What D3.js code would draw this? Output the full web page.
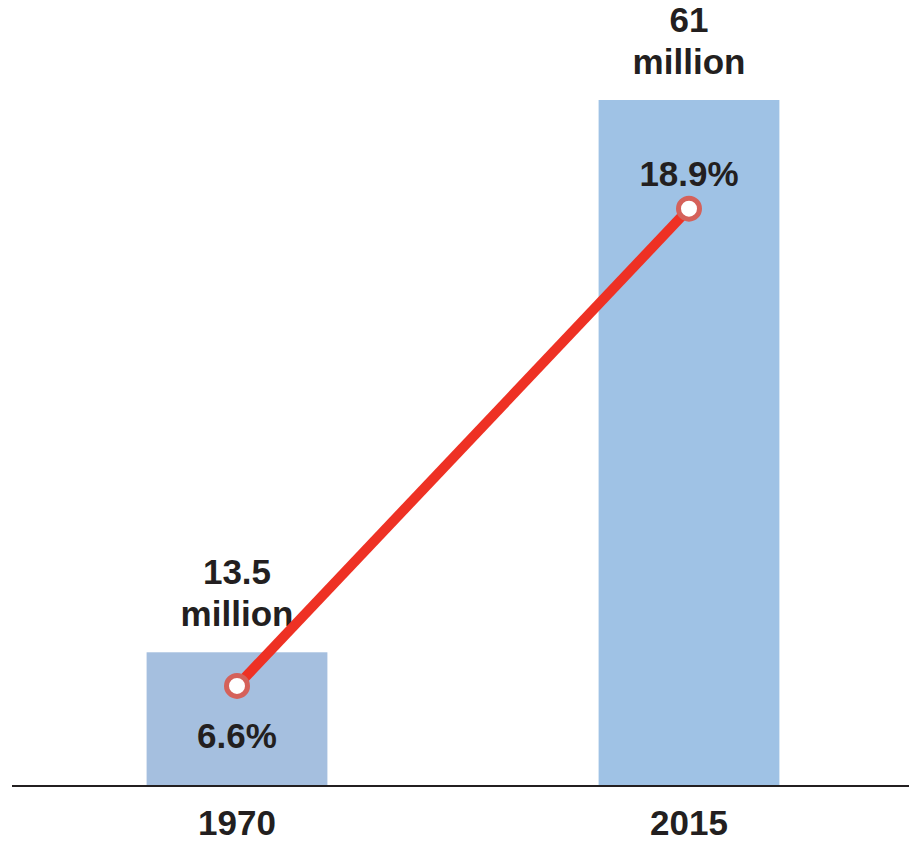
<!DOCTYPE html>
<html>
<head>
<meta charset="utf-8">
<title>1970 vs 2015</title>
<script src="https://d3js.org/d3.v7.min.js"></script>
<style>
  body { margin: 0; background: #fff; }
  text { font-family: "Liberation Sans", Arial, Helvetica, sans-serif; font-weight: bold; fill: #231f20; }
</style>
</head>
<body>
<div id="chart"></div>
<script>
// data
var years = ["1970", "2015"];
var millions = [13.5, 61];
var shares = [6.6, 18.9];
var barColors = ["#a5bfdf", "#9fc2e5"];

var width = 909, height = 864, baseY = 786;

var svg = d3.select("#chart").append("svg")
  .attr("width", width)
  .attr("height", height);

var x = d3.scaleBand()
  .domain(years)
  .range([11, 915])
  .paddingInner(0.6)
  .paddingOuter(0.3);

// bar heights in the original are not zero-based
var y = d3.scaleLinear()
  .domain([2, 61])
  .range([baseY, 100]);

// separate scale for the percentage line
var yPct = d3.scaleLinear()
  .domain([0, 20])
  .range([942, 166]);

// bars
svg.selectAll(".bar")
  .data(years)
  .enter().append("rect")
  .attr("class", "bar")
  .attr("x", function(d) { return x(d); })
  .attr("y", function(d, i) { return y(millions[i]); })
  .attr("width", x.bandwidth())
  .attr("height", function(d, i) { return baseY - y(millions[i]); })
  .style("fill", function(d, i) { return barColors[i]; });

// baseline
svg.append("line")
  .attr("x1", 12).attr("x2", width)
  .attr("y1", baseY).attr("y2", baseY)
  .style("stroke", "#231f20")
  .style("stroke-width", 2);

// year labels
svg.selectAll(".year")
  .data(years)
  .enter().append("text")
  .attr("x", function(d) { return x(d) + x.bandwidth() / 2; })
  .attr("y", 835)
  .attr("text-anchor", "middle")
  .style("font-size", "35px")
  .text(function(d) { return d; });

// value labels above bars
var vl = svg.selectAll(".val")
  .data(years)
  .enter().append("text")
  .attr("text-anchor", "middle")
  .style("font-size", "35px");
vl.append("tspan")
  .attr("x", function(d) { return x(d) + x.bandwidth() / 2; })
  .attr("y", function(d, i) { return y(millions[i]) - 68; })
  .text(function(d, i) { return millions[i]; });
vl.append("tspan")
  .attr("x", function(d) { return x(d) + x.bandwidth() / 2; })
  .attr("y", function(d, i) { return y(millions[i]) - 26; })
  .text("million");

// percentage line
var line = d3.line()
  .x(function(d) { return x(d) + x.bandwidth() / 2; })
  .y(function(d, i) { return yPct(shares[i]); });

svg.append("path")
  .datum(years)
  .attr("d", line)
  .style("fill", "none")
  .style("stroke", "#ee3124")
  .style("stroke-width", 10);

svg.selectAll(".dot")
  .data(years)
  .enter().append("circle")
  .attr("cx", function(d) { return x(d) + x.bandwidth() / 2; })
  .attr("cy", function(d, i) { return yPct(shares[i]); })
  .attr("r", 10.5)
  .style("fill", "#fff")
  .style("stroke", "#d5615a")
  .style("stroke-width", 5);

// percentage labels: first below the point, last above
svg.selectAll(".pct")
  .data(years)
  .enter().append("text")
  .attr("x", function(d) { return x(d) + x.bandwidth() / 2; })
  .attr("y", function(d, i) { return yPct(shares[i]) + (i === 0 ? 62 : -23); })
  .attr("text-anchor", "middle")
  .style("font-size", "35px")
  .text(function(d, i) { return shares[i] + "%"; });
</script>
</body>
</html>
